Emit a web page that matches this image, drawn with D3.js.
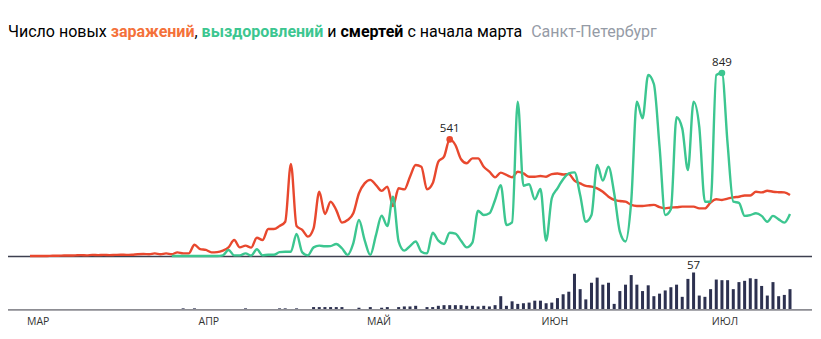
<!DOCTYPE html>
<html>
<head>
<meta charset="utf-8">
<script src="https://cdn.jsdelivr.net/npm/d3@7/dist/d3.min.js"></script>
<style>
  html, body { margin: 0; padding: 0; background: #fff; }
  svg { display: block; font-family: "Open Sans", "Noto Sans", sans-serif; }
  .title { font-family: Roboto, "Noto Sans", sans-serif; }
</style>
</head>
<body>
<svg id="chart" width="821" height="339"></svg>
<script>
// Daily figures for Saint Petersburg, starting 1 March 2020
const startDate = new Date(2020, 2, 1);

const newCases = [
  0,0,0,0,1,1,2,2,3,4,3,5,4,5,4,5,6,5,6,8,9,8,12,8,12,8,17,12,12,
  52,32,28,17,18,25,40,74,40,48,39,85,74,125,125,139,159,427,139,121,90,128,298,195,252,
  213,155,167,198,291,337,353,329,302,322,232,314,309,368,422,414,309,337,438,461,541,515,449,430,453,453,
  414,391,365,387,376,365,391,383,368,368,371,368,380,383,378,380,350,337,325,322,314,298,275,260,255,252,237,232,
  232,235,237,227,221,225,226,229,229,229,221,221,248,263,260,266,272,275,281,281,298,295,303,298,296,295,283
];

// Recoveries are reported from day 25 onward
const recoveries = [
  null,null,null,null,null,null,null,null,null,null,null,null,null,null,null,null,null,null,null,null,null,null,null,null,null,
  0,0,0,0,0,0,0,0,0,3,28,3,3,12,2,31,3,6,6,18,20,20,102,17,3,40,48,45,46,
  56,36,5,59,167,74,5,97,187,139,275,67,25,46,67,20,12,108,71,56,108,104,71,40,62,210,
  190,198,260,329,144,156,716,326,333,263,311,71,268,314,356,383,388,283,159,190,422,350,414,291,113,67,252,716,
  639,840,798,507,190,217,644,592,399,716,600,252,252,840,849,520,252,247,186,190,198,186,159,186,170,155,195
];

const deaths = [
  0,0,0,0,0,0,0,0,0,0,0,0,0,0,0,0,0,0,0,0,0,0,0,0,0,0,0,
  1,0,1,0,0,0,0,0,0,0,0,1,0,0,0,0,0,1,1,0,1,0,0,3,3,3,3,3,3,0,0,2,0,3,0,2,3,0,3,
  4,4,5,0,3,3,5,6,6,6,6,5,5,4,5,4,6,20,5,12,8,9,10,13,13,9,10,17,23,27,55,31,15,41,49,38,41,8,28,38,53,38,28,37,20,24,29,34,38,19,47,57,21,19,31,46,45,45,31,42,44,48,47,36,21,42,20,22,31
];

const monthLabels = ["МАР", "АПР", "МАЙ", "ИЮН", "ИЮЛ"];

const titleParts = [
  { text: "Число новых ", color: "#000", weight: 400 },
  { text: "заражений", color: "#f4713a", weight: 700 },
  { text: ", ", color: "#000", weight: 400 },
  { text: "выздоровлений", color: "#3cc690", weight: 700 },
  { text: " и ", color: "#000", weight: 400 },
  { text: "смертей", color: "#000", weight: 700 },
  { text: " с начала марта", color: "#000", weight: 400 }
];
const regionName = "Санкт-Петербург";

const dayDate = i => d3.timeDay.offset(startDate, i);
const cases = newCases.map((v, i) => ({ date: dayDate(i), value: v }));
const recov = recoveries.map((v, i) => ({ date: dayDate(i), value: v }));
const dead = deaths.map((v, i) => ({ date: dayDate(i), value: v }));

const svg = d3.select("#chart");

const x = d3.scaleTime()
  .domain([startDate, dayDate(newCases.length - 1)])
  .range([30, 790]);

const yLine = d3.scaleLinear()
  .domain([0, d3.max([...newCases, ...recoveries.filter(v => v != null)])])
  .range([256, 73]);

const yBar = d3.scaleLinear()
  .domain([0, d3.max(deaths)])
  .range([309, 272.5]);

// Title
const title = svg.append("text")
  .attr("class", "title")
  .attr("x", 8).attr("y", 37)
  .attr("font-size", 16);
title.selectAll("tspan")
  .data(titleParts)
  .join("tspan")
  .attr("fill", d => d.color)
  .attr("font-weight", d => d.weight)
  .text(d => d.text);
title.append("tspan")
  .attr("dx", 9)
  .attr("fill", "#959ba6")
  .text(regionName);

// Baselines
svg.append("line")
  .attr("x1", 8).attr("x2", 812)
  .attr("y1", yLine(0) + 0.5).attr("y2", yLine(0) + 0.5)
  .attr("stroke", "#3d4050").attr("stroke-width", 1.6);
svg.append("line")
  .attr("x1", 8).attr("x2", 812)
  .attr("y1", yBar(0) + 0.8).attr("y2", yBar(0) + 0.8)
  .attr("stroke", "#8d8d93").attr("stroke-width", 1.8);

// Lines
const line = d3.line()
  .defined(d => d.value != null)
  .x(d => x(d.date))
  .y(d => yLine(d.value))
  .curve(d3.curveMonotoneX);

svg.append("path")
  .datum(cases)
  .attr("fill", "none")
  .attr("stroke", "#e8482e")
  .attr("stroke-width", 2.4)
  .attr("stroke-linejoin", "round")
  .attr("d", line);

svg.append("path")
  .datum(recov)
  .attr("fill", "none")
  .attr("stroke", "#3cc690")
  .attr("stroke-width", 2.4)
  .attr("stroke-linejoin", "round")
  .attr("d", line);

// Peak markers
const casesPeak = cases.reduce((a, b) => (b.value > a.value ? b : a));
const recovPeak = recov.filter(d => d.value != null).reduce((a, b) => (b.value > a.value ? b : a));
[[casesPeak, "#e8482e"], [recovPeak, "#3cc690"]].forEach(([p, c]) => {
  svg.append("circle")
    .attr("cx", x(p.date)).attr("cy", yLine(p.value))
    .attr("r", 3.3).attr("fill", c);
  svg.append("text")
    .attr("x", x(p.date)).attr("y", yLine(p.value) - 7)
    .attr("text-anchor", "middle")
    .attr("font-size", 11.5).attr("fill", "#222")
    .text(p.value);
});

// Death bars
const barW = 3;
svg.append("g")
  .selectAll("rect")
  .data(dead.filter(d => d.value > 0))
  .join("rect")
  .attr("x", d => x(d.date) - barW / 2)
  .attr("width", barW)
  .attr("y", d => yBar(d.value))
  .attr("height", d => yBar(0) - yBar(d.value))
  .attr("fill", "#2d3150");

const deadPeak = dead.reduce((a, b) => (b.value > a.value ? b : a));
svg.append("text")
  .attr("x", x(deadPeak.date)).attr("y", yBar(deadPeak.value) - 4)
  .attr("text-anchor", "middle")
  .attr("font-size", 11.5).attr("fill", "#222")
  .text(deadPeak.value);

// Month labels
const months = d3.timeMonth.range(startDate, d3.timeDay.offset(x.domain()[1], 1));
const mg = svg.append("g").attr("font-size", 10.5).attr("fill", "#333");
months.forEach((m, i) => {
  const t = mg.append("text")
    .attr("y", 325)
    .text(monthLabels[i]);
  const w = t.node().getComputedTextLength();
  const left = Math.max(x(m) + 3 - w / 2, 27);
  t.attr("x", left);
});
</script>
</body>
</html>
